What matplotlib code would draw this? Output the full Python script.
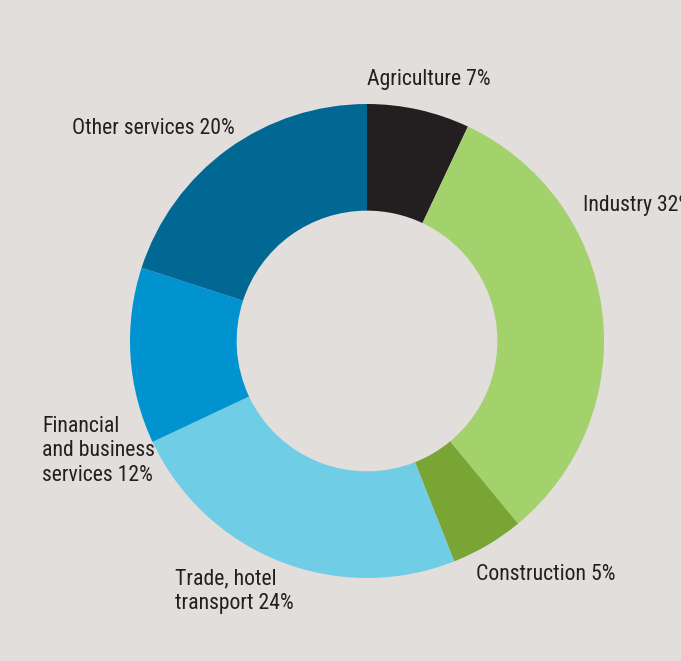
import matplotlib
matplotlib.use("Agg")
import matplotlib.pyplot as plt

categories = ["Agriculture", "Industry", "Construction", "Trade, hotel\ntransport",
              "Financial\nand business\nservices", "Other services"]
values = [7, 32, 5, 24, 12, 20]
colors = ["#231f20", "#a3d16b", "#78a533", "#6fcde6", "#0093d0", "#006893"]
label_pos = [(367, 80), (583, 206), (476, 575), (175, 591), (42, 451), (72, 128)]

W, H = 681, 661
bg = "#e2dedc"
plt.rcParams['font.family'] = ['Roboto Condensed', 'DejaVu Sans']

fig = plt.figure(figsize=(W / 100, H / 100), dpi=100, facecolor=bg)
ax = fig.add_axes([0, 0, 1, 1])
ax.set_facecolor(bg)

cx, cy, R = 367, H - 341, 237
ax.pie(values, colors=colors, startangle=90, counterclock=False,
       center=(cx, cy), radius=R, frame=True,
       wedgeprops=dict(width=R * 0.45, linewidth=0))
ax.set_xlim(0, W)
ax.set_ylim(0, H)
ax.set_aspect('equal')
ax.axis('off')

for cat, v, (x, y) in zip(categories, values, label_pos):
    ax.text(x, H - y, f"{cat} {v}%", ha='left', va='center', fontsize=15.7,
            color="#231f20", linespacing=1.24)

fig.savefig("out.png", dpi=100, facecolor=bg)
